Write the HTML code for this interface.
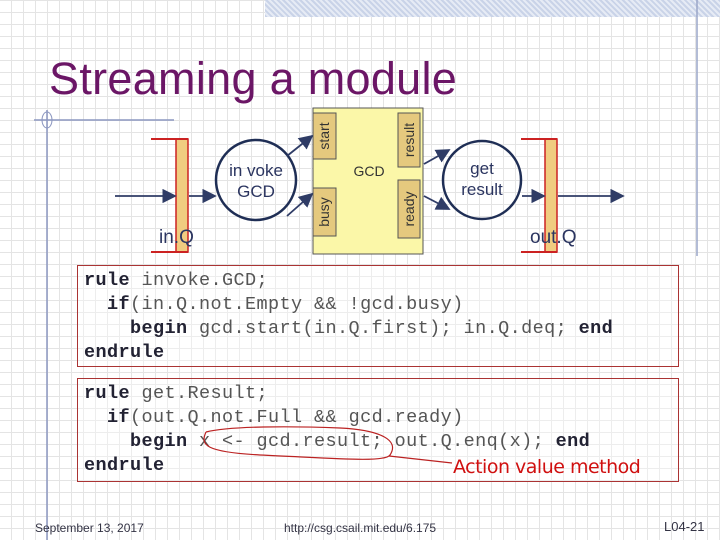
<!DOCTYPE html>
<html><head><style>
body{margin:0}
#p{position:relative;width:720px;height:540px;overflow:hidden;background-color:#fff;
background-image:repeating-linear-gradient(90deg,transparent 0 11px,#e4e4e4 11px 12px),repeating-linear-gradient(0deg,transparent 0 11px,#e4e4e4 11px 12px);font-family:"Liberation Sans",sans-serif}
.t{position:absolute;white-space:pre}
.code{position:absolute;white-space:pre;left:77px;width:602px;border:1.5px solid #a33;background:rgba(255,255,255,0.35);font-family:"Liberation Mono",monospace;font-size:18.5px;letter-spacing:0.4px;line-height:24px;color:#555;padding:0 0 0 6px;box-sizing:border-box}
.code b{color:#223}
</style></head><body><div id="p">
<div style="position:absolute;left:265px;top:0;width:455px;height:17px;background:repeating-linear-gradient(45deg,#c9d3e8 0 2px,#e6ebf5 2px 4px)"></div>
<svg width="720" height="540" style="position:absolute;left:0;top:0">
<line x1="697" y1="0" x2="697" y2="256" stroke="#9aa6c8" stroke-width="1.5"/>
<line x1="34" y1="120" x2="174" y2="120" stroke="#8c97c0" stroke-width="1.5"/>
<line x1="47" y1="110" x2="47" y2="540" stroke="#8c97c0" stroke-width="1.5"/>
<ellipse cx="47" cy="120" rx="5" ry="8" fill="none" stroke="#8c97c0"/>
<defs><marker id="a" markerWidth="8" markerHeight="8" refX="7" refY="4" orient="auto"><path d="M0,0L8,4L0,8z" fill="#2f3c66"/></marker></defs>
<rect x="313" y="108" width="110" height="146" fill="#fbf7a8" stroke="#555"/>
<rect x="313" y="113" width="23" height="46" fill="#e5c97e" stroke="#555"/>
<rect x="313" y="188" width="23" height="48" fill="#e5c97e" stroke="#555"/>
<rect x="398" y="113" width="22" height="54" fill="#e5c97e" stroke="#555"/>
<rect x="398" y="180" width="22" height="58" fill="#e5c97e" stroke="#555"/>
<text x="329" y="136" transform="rotate(-90 329 136)" text-anchor="middle" font-size="14" fill="#333" font-family="Liberation Sans">start</text>
<text x="329" y="212" transform="rotate(-90 329 212)" text-anchor="middle" font-size="14" fill="#333" font-family="Liberation Sans">busy</text>
<text x="414" y="140" transform="rotate(-90 414 140)" text-anchor="middle" font-size="14" fill="#333" font-family="Liberation Sans">result</text>
<text x="414" y="209" transform="rotate(-90 414 209)" text-anchor="middle" font-size="14" fill="#333" font-family="Liberation Sans">ready</text>
<text x="369" y="176" text-anchor="middle" font-size="14" fill="#333" font-family="Liberation Sans">GCD</text>
<circle cx="256" cy="180" r="40" fill="none" stroke="#1f2e55" stroke-width="2.5"/>
<circle cx="482" cy="180" r="39" fill="none" stroke="#1f2e55" stroke-width="2.5"/>
<text x="256" y="176" text-anchor="middle" font-size="17" fill="#2b3560" font-family="Liberation Sans">in voke</text>
<text x="256" y="197" text-anchor="middle" font-size="17" fill="#2b3560" font-family="Liberation Sans">GCD</text>
<text x="482" y="174" text-anchor="middle" font-size="17" fill="#2b3560" font-family="Liberation Sans">get</text>
<text x="482" y="195" text-anchor="middle" font-size="17" fill="#2b3560" font-family="Liberation Sans">result</text>
<rect x="176" y="139" width="12" height="113" fill="#f0cc80" stroke="#c22" stroke-width="1.5"/>
<path d="M151,139H188M151,252H188" stroke="#c22" stroke-width="2"/>
<rect x="545" y="139" width="12" height="113" fill="#f0cc80" stroke="#c22" stroke-width="1.5"/>
<path d="M521,139H557M521,252H557" stroke="#c22" stroke-width="2"/>
<g stroke="#2f3c66" stroke-width="1.8" marker-end="url(#a)">
<line x1="115" y1="196" x2="175" y2="196"/>
<line x1="189" y1="196" x2="215" y2="196"/>
<line x1="287" y1="216" x2="312" y2="194"/>
<line x1="287" y1="156" x2="312" y2="136"/>
<line x1="424" y1="196" x2="449" y2="209"/>
<line x1="424" y1="164" x2="449" y2="150"/>
<line x1="522" y1="196" x2="544" y2="196"/>
<line x1="558" y1="196" x2="623" y2="196"/>
</g>
</svg>
<div class="t" style="left:49px;top:53px;font-size:45px;color:#6b1666;letter-spacing:0.3px">Streaming a module</div>
<div class="t" style="left:159px;top:227px;font-size:19px;color:#2b3560">in.Q</div>
<div class="t" style="left:530px;top:227px;font-size:19px;color:#2b3560">out.Q</div>
<div class="code" style="top:265px;height:102px;padding-top:3px"><b>rule</b> invoke.GCD;
  <b>if</b>(in.Q.not.Empty &amp;&amp; !gcd.busy)
    <b>begin</b> gcd.start(in.Q.first); in.Q.deq; <b>end</b>
<b>endrule</b></div>
<div class="code" style="top:378px;height:104px;padding-top:3px"><b>rule</b> get.Result;
  <b>if</b>(out.Q.not.Full &amp;&amp; gcd.ready)
    <b>begin</b> x &lt;- gcd.result; out.Q.enq(x); <b>end</b>
<b>endrule</b></div>
<svg width="720" height="540" style="position:absolute;left:0;top:0">
<path d="M206,432 C200,445 205,452 260,455 C330,458 385,463 390,455 C400,440 380,430 340,428 C290,426 230,426 206,432" fill="none" stroke="#b22" stroke-width="1.2"/>
<line x1="389" y1="456" x2="452" y2="463" stroke="#b22" stroke-width="1.2"/>
</svg>
<div class="t" style="left:453px;top:456px;font-size:19px;color:#d01010;font-family:'DejaVu Sans',sans-serif;letter-spacing:-0.5px">Action value method</div>
<div class="t" style="left:35px;top:521px;font-size:12px;color:#334">September 13, 2017</div>
<div class="t" style="left:284px;top:521px;font-size:12px;color:#334">http://csg.csail.mit.edu/6.175</div>
<div class="t" style="left:664px;top:519px;font-size:13px;color:#334">L04-21</div>
</div></body></html>
